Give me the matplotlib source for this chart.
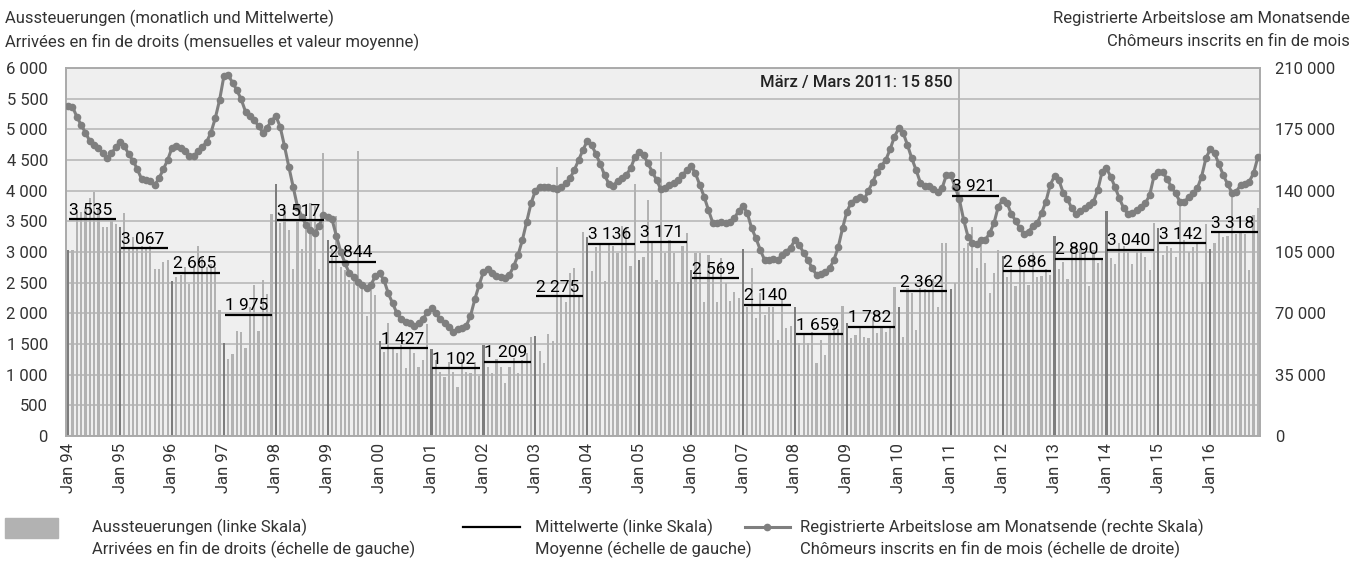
import numpy as np
import matplotlib.pyplot as plt
from matplotlib.ticker import FuncFormatter, MultipleLocator
from matplotlib.lines import Line2D
from matplotlib.patches import Rectangle

plt.rcParams.update({
    "font.family": ["Roboto", "DejaVu Sans"],
    "font.size": 12,
})

# --- Data ---
years = list(range(1994, 2017))
tick_labels = ["Jan %02d" % (y % 100) for y in years]

# Aussteuerungen, monthly (left scale), one row per year
exhausted = [
    3030, 3030, 3650, 3650, 3700, 3880, 3980, 3700, 3400, 3400, 3500, 3450,  # 1994
    3400, 3630, 3050, 3250, 3050, 3100, 3050, 3100, 2730, 2730, 2830, 2870,  # 1995
    2520, 2600, 2620, 2750, 2480, 2780, 3100, 2900, 2750, 2800, 2750, 2060,  # 1996
    1510, 1250, 1330, 1720, 1700, 1430, 2100, 2460, 1720, 2540, 2320, 3620,  # 1997
    4110, 3470, 3720, 3360, 2730, 3500, 3050, 3370, 3800, 3750, 2730, 4620,  # 1998
    3200, 3050, 3590, 2750, 2700, 2540, 2570, 4650, 2430, 1950, 2400, 2300,  # 1999
    1549, 1375, 1837, 1457, 1348, 1484, 1103, 1430, 1348, 1130, 1239, 1830,  # 2000
    1413, 1240, 1050, 960, 1200, 1050, 805, 1250, 1050, 1030, 1200, 980,     # 2001
    1484, 1130, 1022, 1250, 1130, 859, 1130, 1266, 1022, 1239, 1348, 1620,   # 2002
    1630, 1386, 1185, 1663, 1549, 4391, 2293, 2185, 2652, 2734, 2266, 3332,  # 2003
    3250, 2696, 3076, 3114, 2533, 3114, 3098, 2978, 3429, 3413, 2777, 4103,  # 2004
    2875, 2924, 3848, 3141, 2543, 4625, 2978, 3196, 2978, 2516, 3098, 3304,  # 2005
    2707, 2978, 2978, 2185, 2951, 2652, 2185, 2900, 2500, 2200, 2350, 2250,  # 2006
    3043, 2108, 2734, 1918, 2326, 1973, 2108, 2108, 1565, 2230, 1755, 1800,  # 2007
    2108, 1511, 1674, 1520, 1700, 1185, 1560, 1321, 1660, 1800, 1750, 2120,  # 2008
    1837, 1600, 1650, 1783, 1620, 1600, 1918, 1674, 1783, 1700, 1800, 2435,  # 2009
    2108, 1620, 2408, 2326, 1728, 2408, 2400, 2380, 2560, 2108, 3141, 3152,  # 2010
    2391, 2500, 15850, 3060, 3141, 3402, 2734, 3130, 2815, 2326, 2652, 3033, # 2011
    2935, 2586, 2722, 2451, 2815, 2700, 2462, 3005, 2600, 2614, 2720, 2630,  # 2012
    3261, 2717, 2842, 2554, 3060, 3050, 3043, 2978, 2440, 3033, 2826, 2880,  # 2013
    3674, 2900, 2800, 3150, 3100, 3000, 2800, 3005, 3033, 2924, 2700, 3478,  # 2014
    3386, 2950, 3103, 3060, 2913, 3870, 3200, 3000, 3087, 3170, 2516, 3450,  # 2015
    3043, 3150, 3304, 3250, 3261, 3955, 3300, 3304, 3300, 2700, 3600, 3712,  # 2016
]

# Yearly averages (Mittelwerte)
annual_means = [3535, 3067, 2665, 1975, 3517, 2844, 1427, 1102, 1209, 2275, 3136,
                3171, 2569, 2140, 1659, 1782, 2362, 3921, 2686, 2890, 3040, 3142, 3318]

# Registrierte Arbeitslose am Monatsende (right scale)
unemployed = [
    188500, 187900, 182200, 177500, 173100, 168300, 166100, 164500, 161300, 158500, 161300, 164700,
    168000, 165500, 160700, 157100, 152200, 146500, 146100, 145700, 143200, 147000, 152200, 157500,
    164500, 165300, 164500, 162600, 160000, 159800, 162500, 164900, 167800, 173100, 181300, 191700,
    205400, 206000, 201600, 197400, 192100, 185100, 182600, 180300, 176900, 173100, 176000, 179900,
    182600, 176500, 165500, 153700, 142300, 130900, 125200, 120400, 117600, 115700, 119800, 126100,
    125200, 123600, 114100, 105200, 98500, 92800, 90900, 88100, 86200, 84300, 86200, 91300,
    92800, 89000, 81400, 75700, 70000, 66600, 65300, 64300, 62800, 64300, 66600, 70600,
    72900, 70000, 66600, 64300, 62400, 59600, 60900, 61500, 62800, 68500, 78000, 86200,
    93800, 95100, 92800, 91300, 90600, 90000, 91900, 97000, 103300, 111900, 122300, 132800,
    140000, 142300, 142300, 141900, 141300, 140800, 141900, 144200, 147000, 151800, 157500, 163200,
    168500, 166100, 160900, 155200, 148900, 143800, 142700, 145700, 147000, 148900, 152700, 159000,
    162300, 160400, 155600, 150800, 146100, 140800, 141300, 143200, 144200, 146100, 148900, 151800,
    154100, 149900, 143200, 136600, 129000, 121700, 121400, 121900, 121400, 122300, 124200, 128600,
    131300, 127100, 118500, 112800, 106100, 100400, 100400, 100800, 100400, 103300, 105200, 107500,
    111900, 109000, 104600, 100400, 95700, 91900, 92500, 93800, 95700, 100400, 107700, 118500,
    128000, 133200, 135100, 136600, 135100, 140000, 145100, 150800, 154100, 157500, 163600, 170800,
    175600, 173100, 166100, 158500, 151800, 144600, 142700, 142700, 140800, 139400, 141300, 148900,
    148900, 142300, 135100, 123300, 113800, 110300, 109600, 111900, 111900, 115700, 121400, 130900,
    134700, 133200, 126700, 122900, 118500, 115300, 116600, 119800, 121400, 127100, 133700, 143200,
    148400, 146100, 138900, 135100, 129900, 126700, 128600, 130300, 131800, 133700, 140400, 150800,
    152700, 148000, 141900, 135600, 129900, 126700, 127500, 129000, 130900, 132800, 137500, 148400,
    150800, 150800, 146500, 142300, 138500, 133700, 133700, 136200, 138500, 141300, 148000, 158500,
    163600, 161300, 155200, 148900, 143800, 138900, 139400, 143200, 143800, 145100, 149900, 159000,
]

peak_note = "März / Mars 2011: 15 850"
peak_month = (2011 - 1994) * 12 + 2

# --- Plot ---
W, H = 1354, 561
fig = plt.figure(figsize=(W / 100, H / 100), dpi=100)
ax = fig.add_axes([66 / W, 125 / H, 1194 / W, 368 / H])
ax2 = ax.twinx()

months = np.arange(len(exhausted))
bar_colors = ["#7d7d7d" if m % 12 == 0 else "#b2b2b2" for m in months]

ax.set_facecolor("#efefef")
ax.set_axisbelow(True)
ax.grid(axis="y", color="#b8b8b8", linewidth=1.2)
ax.bar(months, exhausted, width=0.5, color=bar_colors, linewidth=0)

ax.set_xlim(-0.5, len(exhausted) - 0.5)
ax.set_ylim(0, 6000)
ax2.set_ylim(0, 210000)
ax.yaxis.set_major_locator(MultipleLocator(500))
ax2.yaxis.set_major_locator(MultipleLocator(35000))

thousands = FuncFormatter(lambda v, p: f"{v:,.0f}".replace(",", " "))
ax.yaxis.set_major_formatter(thousands)
ax2.yaxis.set_major_formatter(thousands)

ax.set_xticks(np.arange(0, len(exhausted), 12))
ax.set_xticklabels(tick_labels, rotation=90)

ax.tick_params(axis="y", length=0, pad=13, labelsize=12, colors="#333333")
ax.tick_params(axis="x", length=0, pad=5, labelsize=12, colors="#333333")
ax2.tick_params(axis="y", length=0, pad=11, labelsize=12, colors="#333333")
for a in (ax, ax2):
    for s in a.spines.values():
        s.set_color("#aaaaaa")
        s.set_linewidth(1.2)

# unemployed line
ax2.plot(months, unemployed, color="#7f7f7f", linewidth=2.2,
         marker="o", markersize=4.5, zorder=3)

# yearly means drawn on top (in left-axis coordinates)
for k, m in enumerate(annual_means):
    x0 = 12 * k + 0.2
    x1 = 12 * k + 11.1
    ax2.plot([x0, x1], [m, m], color="black", linewidth=1.6,
             transform=ax.transData, zorder=4, solid_capstyle="butt")
    ax2.annotate(f"{m:,}".replace(",", " "), xy=(x0, m), xycoords=ax.transData,
                 xytext=(0, 1), textcoords="offset points",
                 ha="left", va="bottom", fontsize=12.5, color="black", zorder=5)

ax2.text(peak_month - 1.6, 5760, peak_note, transform=ax.transData,
         ha="right", va="center", fontsize=12, fontweight="medium", color="#222222")

# headers
fig.text(5 / W, 1 - 18 / H, "Aussteuerungen (monatlich und Mittelwerte)",
         ha="left", va="center", fontsize=12, color="#333333")
fig.text(5 / W, 1 - 42 / H, "Arrivées en fin de droits (mensuelles et valeur moyenne)",
         ha="left", va="center", fontsize=12, color="#333333")
fig.text(1350 / W, 1 - 18 / H, "Registrierte Arbeitslose am Monatsende",
         ha="right", va="center", fontsize=12, color="#333333")
fig.text(1350 / W, 1 - 42 / H, "Chômeurs inscrits en fin de mois",
         ha="right", va="center", fontsize=12, color="#333333")

# legend (drawn manually to match layout)
y1, y2 = 1 - 527 / H, 1 - 549 / H
fig.patches.append(Rectangle((5 / W, 1 - 538 / H), 53 / W, 20 / H,
                             transform=fig.transFigure, color="#b2b2b2"))
fig.text(92 / W, y1, "Aussteuerungen (linke Skala)", va="center", fontsize=12, color="#333333")
fig.text(92 / W, y2, "Arrivées en fin de droits (échelle de gauche)", va="center", fontsize=12, color="#333333")

fig.lines.append(Line2D([463 / W, 520 / W], [y1, y1], transform=fig.transFigure,
                        color="black", linewidth=1.6))
fig.text(535 / W, y1, "Mittelwerte (linke Skala)", va="center", fontsize=12, color="#333333")
fig.text(535 / W, y2, "Moyenne (échelle de gauche)", va="center", fontsize=12, color="#333333")

fig.lines.append(Line2D([745 / W, 790 / W], [y1, y1], transform=fig.transFigure,
                        color="#7f7f7f", linewidth=2.2))
fig.lines.append(Line2D([767.5 / W], [y1], transform=fig.transFigure,
                        color="#7f7f7f", marker="o", markersize=4.5))
fig.text(800 / W, y1, "Registrierte Arbeitslose am Monatsende (rechte Skala)", va="center", fontsize=12, color="#333333")
fig.text(800 / W, y2, "Chômeurs inscrits en fin de mois (échelle de droite)", va="center", fontsize=12, color="#333333")

fig.savefig("out.png", dpi=100)
plt.close(fig)
